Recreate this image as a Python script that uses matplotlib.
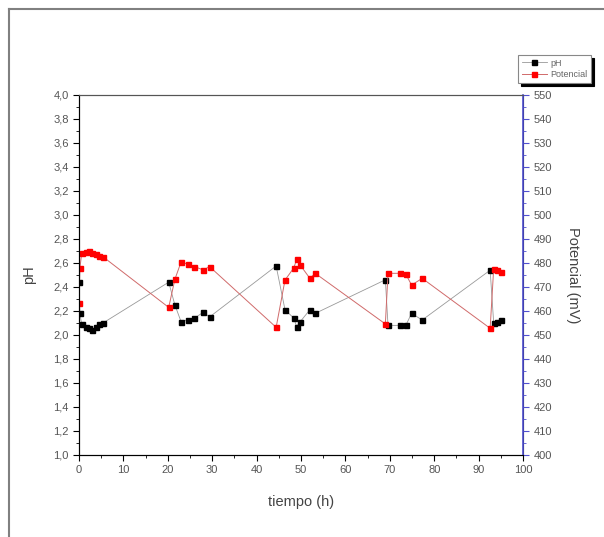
import matplotlib
matplotlib.use("Agg")
import matplotlib.pyplot as plt
from matplotlib.ticker import MultipleLocator, FuncFormatter
from matplotlib.lines import Line2D

plt.rcParams['font.family'] = ['Liberation Sans', 'DejaVu Sans']

# tiempo (h)
tiempo = [0, 0.2, 0.6, 1.5, 2.3, 3.0, 3.8, 4.6, 5.4,
          20.2, 21.6, 23.0, 24.5, 26.0, 28.0, 29.4,
          44.4, 46.4, 48.4, 49.0, 49.8, 52.0, 53.2,
          69.0, 69.6, 72.2, 73.6, 74.9, 77.3,
          92.6, 93.4, 94.2, 95.1]

ph = [2.44, 2.18, 2.09, 2.07, 2.06, 2.04, 2.07, 2.09, 2.10,
      2.44, 2.25, 2.11, 2.125, 2.14, 2.19, 2.15,
      2.575, 2.21, 2.14, 2.07, 2.11, 2.21, 2.18,
      2.46, 2.08, 2.08, 2.08, 2.18, 2.125,
      2.54, 2.10, 2.11, 2.125]

potencial = [463.5, 477.8, 484.0, 484.7, 485.0, 484.3, 483.6, 482.9, 482.6,
             461.5, 473.2, 480.5, 479.5, 478.5, 477.1, 478.5,
             453.2, 472.9, 478.0, 481.5, 479.2, 473.6, 475.7,
             454.6, 475.7, 475.7, 475.4, 470.8, 473.6,
             452.8, 477.7, 477.1, 476.4]

W, H = 604, 537
fig = plt.figure(figsize=(W / 100, H / 100), dpi=100)

# outer frame (top and left edges only visible)
fig.add_artist(Line2D([9 / W, 1], [1 - 9 / H, 1 - 9 / H], color='#808080', lw=1.5))
fig.add_artist(Line2D([9 / W, 9 / W], [0, 1 - 9 / H], color='#808080', lw=1.5))

ax = fig.add_axes([79 / W, 1 - 455 / H, (523 - 79) / W, (455 - 95) / H])
ax2 = ax.twinx()

ax.plot(tiempo, ph, color='#999999', lw=0.6, zorder=1)
ax.plot(tiempo, ph, ls='none', marker='s', ms=3.6, mec='black', mfc='black', zorder=2)
ax2.plot(tiempo, potencial, color='#d06a6a', lw=0.7, zorder=1)
ax2.plot(tiempo, potencial, ls='none', marker='s', ms=3.6, mec='red', mfc='red', zorder=2)

# legend handles
h1 = Line2D([], [], color='#999999', lw=0.6, marker='s', ms=3.6, mec='black', mfc='black')
h2 = Line2D([], [], color='#d06a6a', lw=0.7, marker='s', ms=3.6, mec='red', mfc='red')

ax.set_xlim(0, 100)
ax.set_ylim(1.0, 4.0)
ax2.set_ylim(400, 550)

ax.xaxis.set_major_locator(MultipleLocator(10))
ax.xaxis.set_minor_locator(MultipleLocator(5))
ax.yaxis.set_major_locator(MultipleLocator(0.2))
ax.yaxis.set_minor_locator(MultipleLocator(0.1))
ax.yaxis.set_major_formatter(FuncFormatter(lambda v, p: f"{v:.1f}".replace('.', ',')))
ax2.yaxis.set_major_locator(MultipleLocator(10))
ax2.yaxis.set_minor_locator(MultipleLocator(5))

tcol = '#555555'
ax.tick_params(which='major', direction='out', length=4, width=0.8, labelsize=8, labelcolor=tcol)
ax.tick_params(which='minor', direction='out', length=2, width=0.6)
ax2.tick_params(which='major', direction='out', length=4, width=0.8, labelsize=8,
                labelcolor=tcol, color='#5050d0')
ax2.tick_params(which='minor', direction='out', length=2, width=0.6, color='#5050d0')

for s in ['left', 'bottom']:
    ax.spines[s].set_color('#222222')
ax.spines['top'].set_color('#555555')
ax2.spines['right'].set_color('#5050d0')
ax2.spines['right'].set_linewidth(1.2)
ax2.spines['top'].set_color('#555555')

ax.set_xlabel('tiempo (h)', fontsize=10.5, color='#444444', labelpad=14)
ax.set_ylabel('pH', fontsize=10.5, color='#444444', labelpad=12)
ax2.set_ylabel('Potencial (mV)', fontsize=10.5, color='#444444', rotation=-90, labelpad=20)

leg = fig.legend(handles=[h1, h2], labels=['pH', 'Potencial'], loc='upper left',
                 bbox_to_anchor=(518 / W, 1 - 55 / H), fontsize=6.5,
                 frameon=True, fancybox=False, shadow={'color': 'black', 'alpha': 1},
                 handlelength=2.8, borderpad=0.4, labelspacing=0.3,
                 handletextpad=0.4, borderaxespad=0)
leg.get_frame().set_edgecolor('#888888')
leg.get_frame().set_linewidth(0.8)
for t in leg.get_texts():
    t.set_color('#666666')

fig.savefig('out.png', dpi=100)
